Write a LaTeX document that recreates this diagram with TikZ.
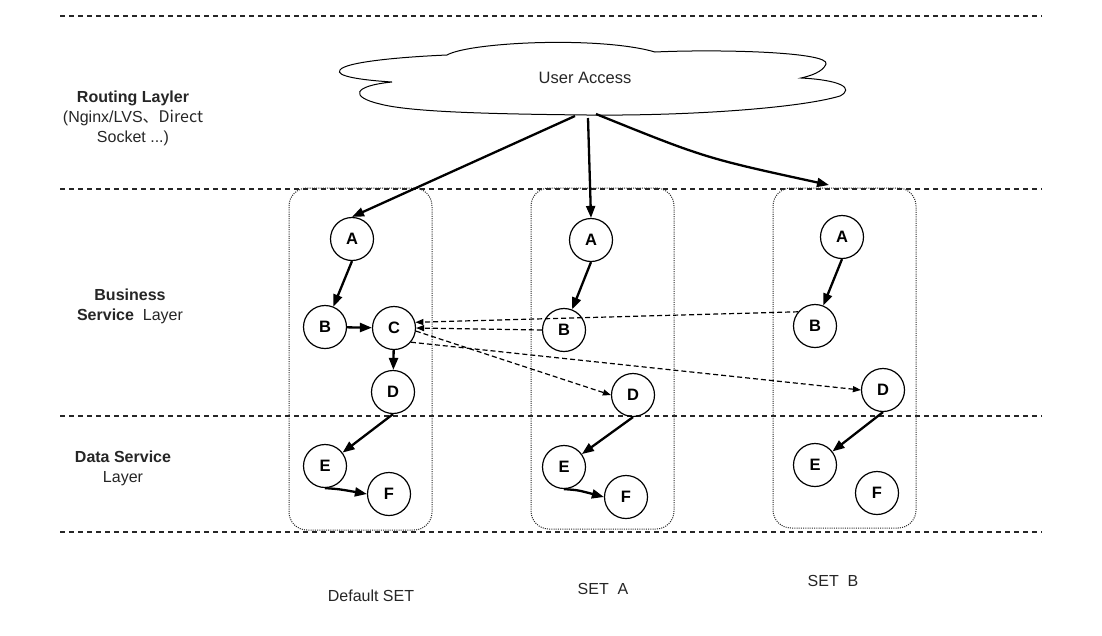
\documentclass[tikz,border=0pt]{standalone}
\usepackage{fontspec}
\setmainfont{Liberation Sans}
\newfontfamily\cjk{Noto Sans CJK SC}
\usetikzlibrary{arrows.meta}
\begin{document}
\begin{tikzpicture}[x=1pt,y=-1pt,
  layerline/.style={line width=1.3pt, dash pattern=on 5pt off 4pt, black!85},
  setbox/.style={draw=black!85, line width=1pt, dash pattern=on 1pt off 1.2pt, rounded corners=18pt, inner sep=0pt},
  svc/.style={circle, draw, line width=1.2pt, minimum size=43pt, inner sep=0pt, font=\fontsize{16.5}{16.5}\selectfont\bfseries},
  call/.style={line width=2.3pt, -{Triangle[length=12pt,width=9pt]}},
  rpc/.style={line width=1.2pt, dash pattern=on 5pt off 3pt, -{Triangle[length=8pt,width=6pt]}},
  lbl/.style={font=\fontsize{16}{20}\selectfont, align=center, text=black!85},
  setlbl/.style={font=\fontsize{16}{20}\selectfont, text=black!85},
]
\useasboundingbox[fill=white] (0,0) rectangle (1102,635);

% set boxes
\node[setbox, minimum width=143pt, minimum height=342pt] (boxD) at (360.5,359) {};
\node[setbox, minimum width=143pt, minimum height=341pt] (boxA) at (602.5,358.5) {};
\node[setbox, minimum width=143pt, minimum height=340pt] (boxB) at (844.5,358) {};

% layer separators
\draw[layerline] (60,16) -- (1042,16);
\draw[layerline] (60,189) -- (1042,189);
\draw[layerline] (60,416) -- (1042,416);
\draw[layerline] (60,532) -- (1042,532);

% cloud
\draw[line width=1pt, fill=white] (392,82)
  .. controls (360,80) and (335,76) .. (340,70)
  .. controls (345,62) and (400,57) .. (447,55)
  .. controls (470,42) and (600,36) .. (655,52)
  .. controls (720,49) and (830,52) .. (826,64)
  .. controls (823,72) and (810,76) .. (801,78)
  .. controls (840,80) and (855,88) .. (840,96)
  .. controls (800,108) and (690,116) .. (587,115)
  .. controls (490,114) and (410,112) .. (380,104)
  .. controls (350,97) and (352,86) .. cycle;
\node[lbl, font=\fontsize{16.5}{20}\selectfont] (ua) at (585,78) {User Access};
\coordinate (ua1) at (575,116);
\coordinate (ua2) at (588,118);
\coordinate (ua3) at (596,114);
\coordinate (sb) at (829,185);

% layer labels
\node[lbl] (routing) at (133,118) {\textbf{Routing Layler}\\(Nginx/LVS\cjk{、}Direct\\Socket ...)};
\node[lbl] (business) at (130,306) {\textbf{Business}\\\textbf{Service}\ \ Layer};
\node[lbl] (data) at (123,468) {\textbf{Data Service}\\Layer};

% services
\node[svc] (dA) at (352,239) {A};
\node[svc] (dB) at (325,327) {B};
\node[svc] (dC) at (394,328) {C};
\node[svc] (dD) at (393,392) {D};
\node[svc] (dE) at (325,466) {E};
\node[svc] (dF) at (389,494) {F};

\node[svc] (aA) at (591,240) {A};
\node[svc] (aB) at (564,330) {B};
\node[svc] (aD) at (633,395) {D};
\node[svc] (aE) at (564,467) {E};
\node[svc] (aF) at (626,497) {F};

\node[svc] (bA) at (842,237) {A};
\node[svc] (bB) at (815,326) {B};
\node[svc] (bD) at (883,390) {D};
\node[svc] (bE) at (815,465) {E};
\node[svc] (bF) at (877,493) {F};

% routing arrows
\draw[call] (ua1) -- (dA.north);
\draw[call] (ua2) -- (aA.north);
\draw[call] (ua3) .. controls (705,158) .. (sb);

% default set calls
\draw[call] (dA.south) -- (dB);
\draw[call] (dB) -- (dC);
\draw[call] (dC) -- (dD);
\draw[call] (dD.south) -- (dE);
\draw[call] (dE.south) .. controls +(14,1) .. (dF.west);

% set A calls
\draw[call] (aA.south) -- (aB);
\draw[call] (aD.south) -- (aE);
\draw[call] (aE.south) .. controls +(14,1) .. (aF.west);

% set B calls
\draw[call] (bA.south) -- (bB);
\draw[call] (bD.south) -- (bE);

% cross-set calls
\draw[rpc] (aB.west) -- (dC.east);
\draw[rpc] (bB.140) -- (dC.15);
\draw[rpc] (dC.-8) -- (aD.west);
\draw[rpc] (dC.-40) -- (bD.west);

% set labels
\node[setlbl] (lD) at (371,596) {Default SET};
\node[setlbl] (lA) at (603,589) {SET\ \ A};
\node[setlbl] (lB) at (833,581) {SET\ \ B};
\end{tikzpicture}
\end{document}
